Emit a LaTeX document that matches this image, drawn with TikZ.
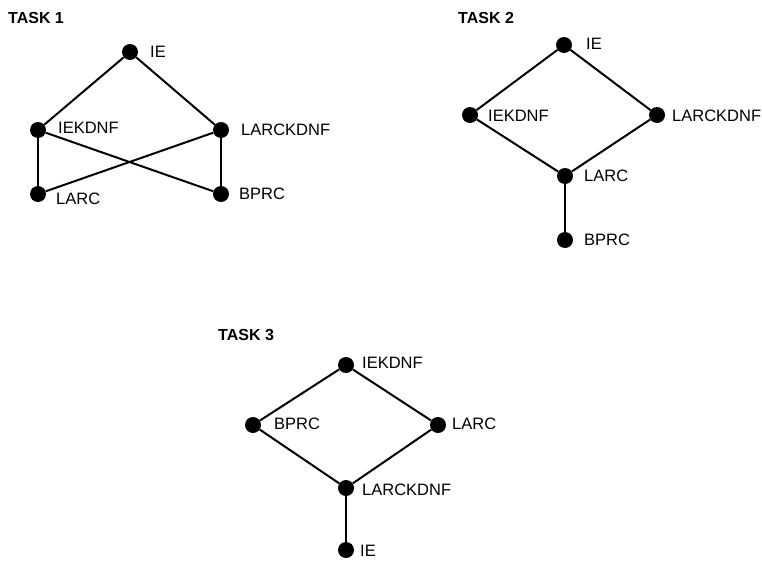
\documentclass[tikz,border=0pt]{standalone}
\usepackage{fontspec}
\setmainfont{Liberation Sans}
\begin{document}
\begin{tikzpicture}[x=1pt,y=-1pt,
  dot/.style={circle,fill=black,inner sep=0pt,minimum size=16pt},
  lab/.style={anchor=west,inner sep=0pt,font=\fontsize{16.5}{16.5}\selectfont},
  ttl/.style={anchor=west,inner sep=0pt,font=\fontsize{16}{16}\selectfont\bfseries},
  edge/.style={line width=2pt}]
\useasboundingbox (0,0) rectangle (762,562);

% ---- Task 1 ----
\node[ttl] (t1) at (8,18) {TASK 1};
\node[dot] (a1) at (130,52) {};
\node[dot] (a2) at (38,130) {};
\node[dot] (a3) at (221,130) {};
\node[dot] (a4) at (38,194) {};
\node[dot] (a5) at (221,194) {};
\node[lab] (la1) at (150,52) {IE};
\node[lab] (la2) at (58,128) {IEKDNF};
\node[lab] (la3) at (241,130) {LARCKDNF};
\node[lab] (la4) at (56,199) {LARC};
\node[lab] (la5) at (239,194) {BPRC};
\draw[edge] (a2) -- (a1) -- (a3);
\draw[edge] (a2) -- (a4);
\draw[edge] (a3) -- (a5);
\draw[edge] (a2) -- (a5);
\draw[edge] (a4) -- (a3);

% ---- Task 2 ----
\node[ttl] (t2) at (458,18) {TASK 2};
\node[dot] (b1) at (564,45) {};
\node[dot] (b2) at (470,115) {};
\node[dot] (b3) at (657,115) {};
\node[dot] (b4) at (565,176) {};
\node[dot] (b5) at (565,240) {};
\node[lab] (lb1) at (586,44) {IE};
\node[lab] (lb2) at (488,116) {IEKDNF};
\node[lab] (lb3) at (672,116) {LARCKDNF};
\node[lab] (lb4) at (584,176) {LARC};
\node[lab] (lb5) at (584,240) {BPRC};
\draw[edge] (b2) -- (b1) -- (b3) -- (b4) -- (b2);
\draw[edge] (b4) -- (b5);

% ---- Task 3 ----
\node[ttl] (t3) at (218,335) {TASK 3};
\node[dot] (c1) at (346,365) {};
\node[dot] (c2) at (253,425) {};
\node[dot] (c3) at (438,425) {};
\node[dot] (c4) at (346,488) {};
\node[dot] (c5) at (346,550) {};
\node[lab] (lc1) at (362,363) {IEKDNF};
\node[lab] (lc2) at (274,424) {BPRC};
\node[lab] (lc3) at (452,424) {LARC};
\node[lab] (lc4) at (362,490) {LARCKDNF};
\node[lab] (lc5) at (360,551) {IE};
\draw[edge] (c2) -- (c1) -- (c3) -- (c4) -- (c2);
\draw[edge] (c4) -- (c5);
\end{tikzpicture}
\end{document}
